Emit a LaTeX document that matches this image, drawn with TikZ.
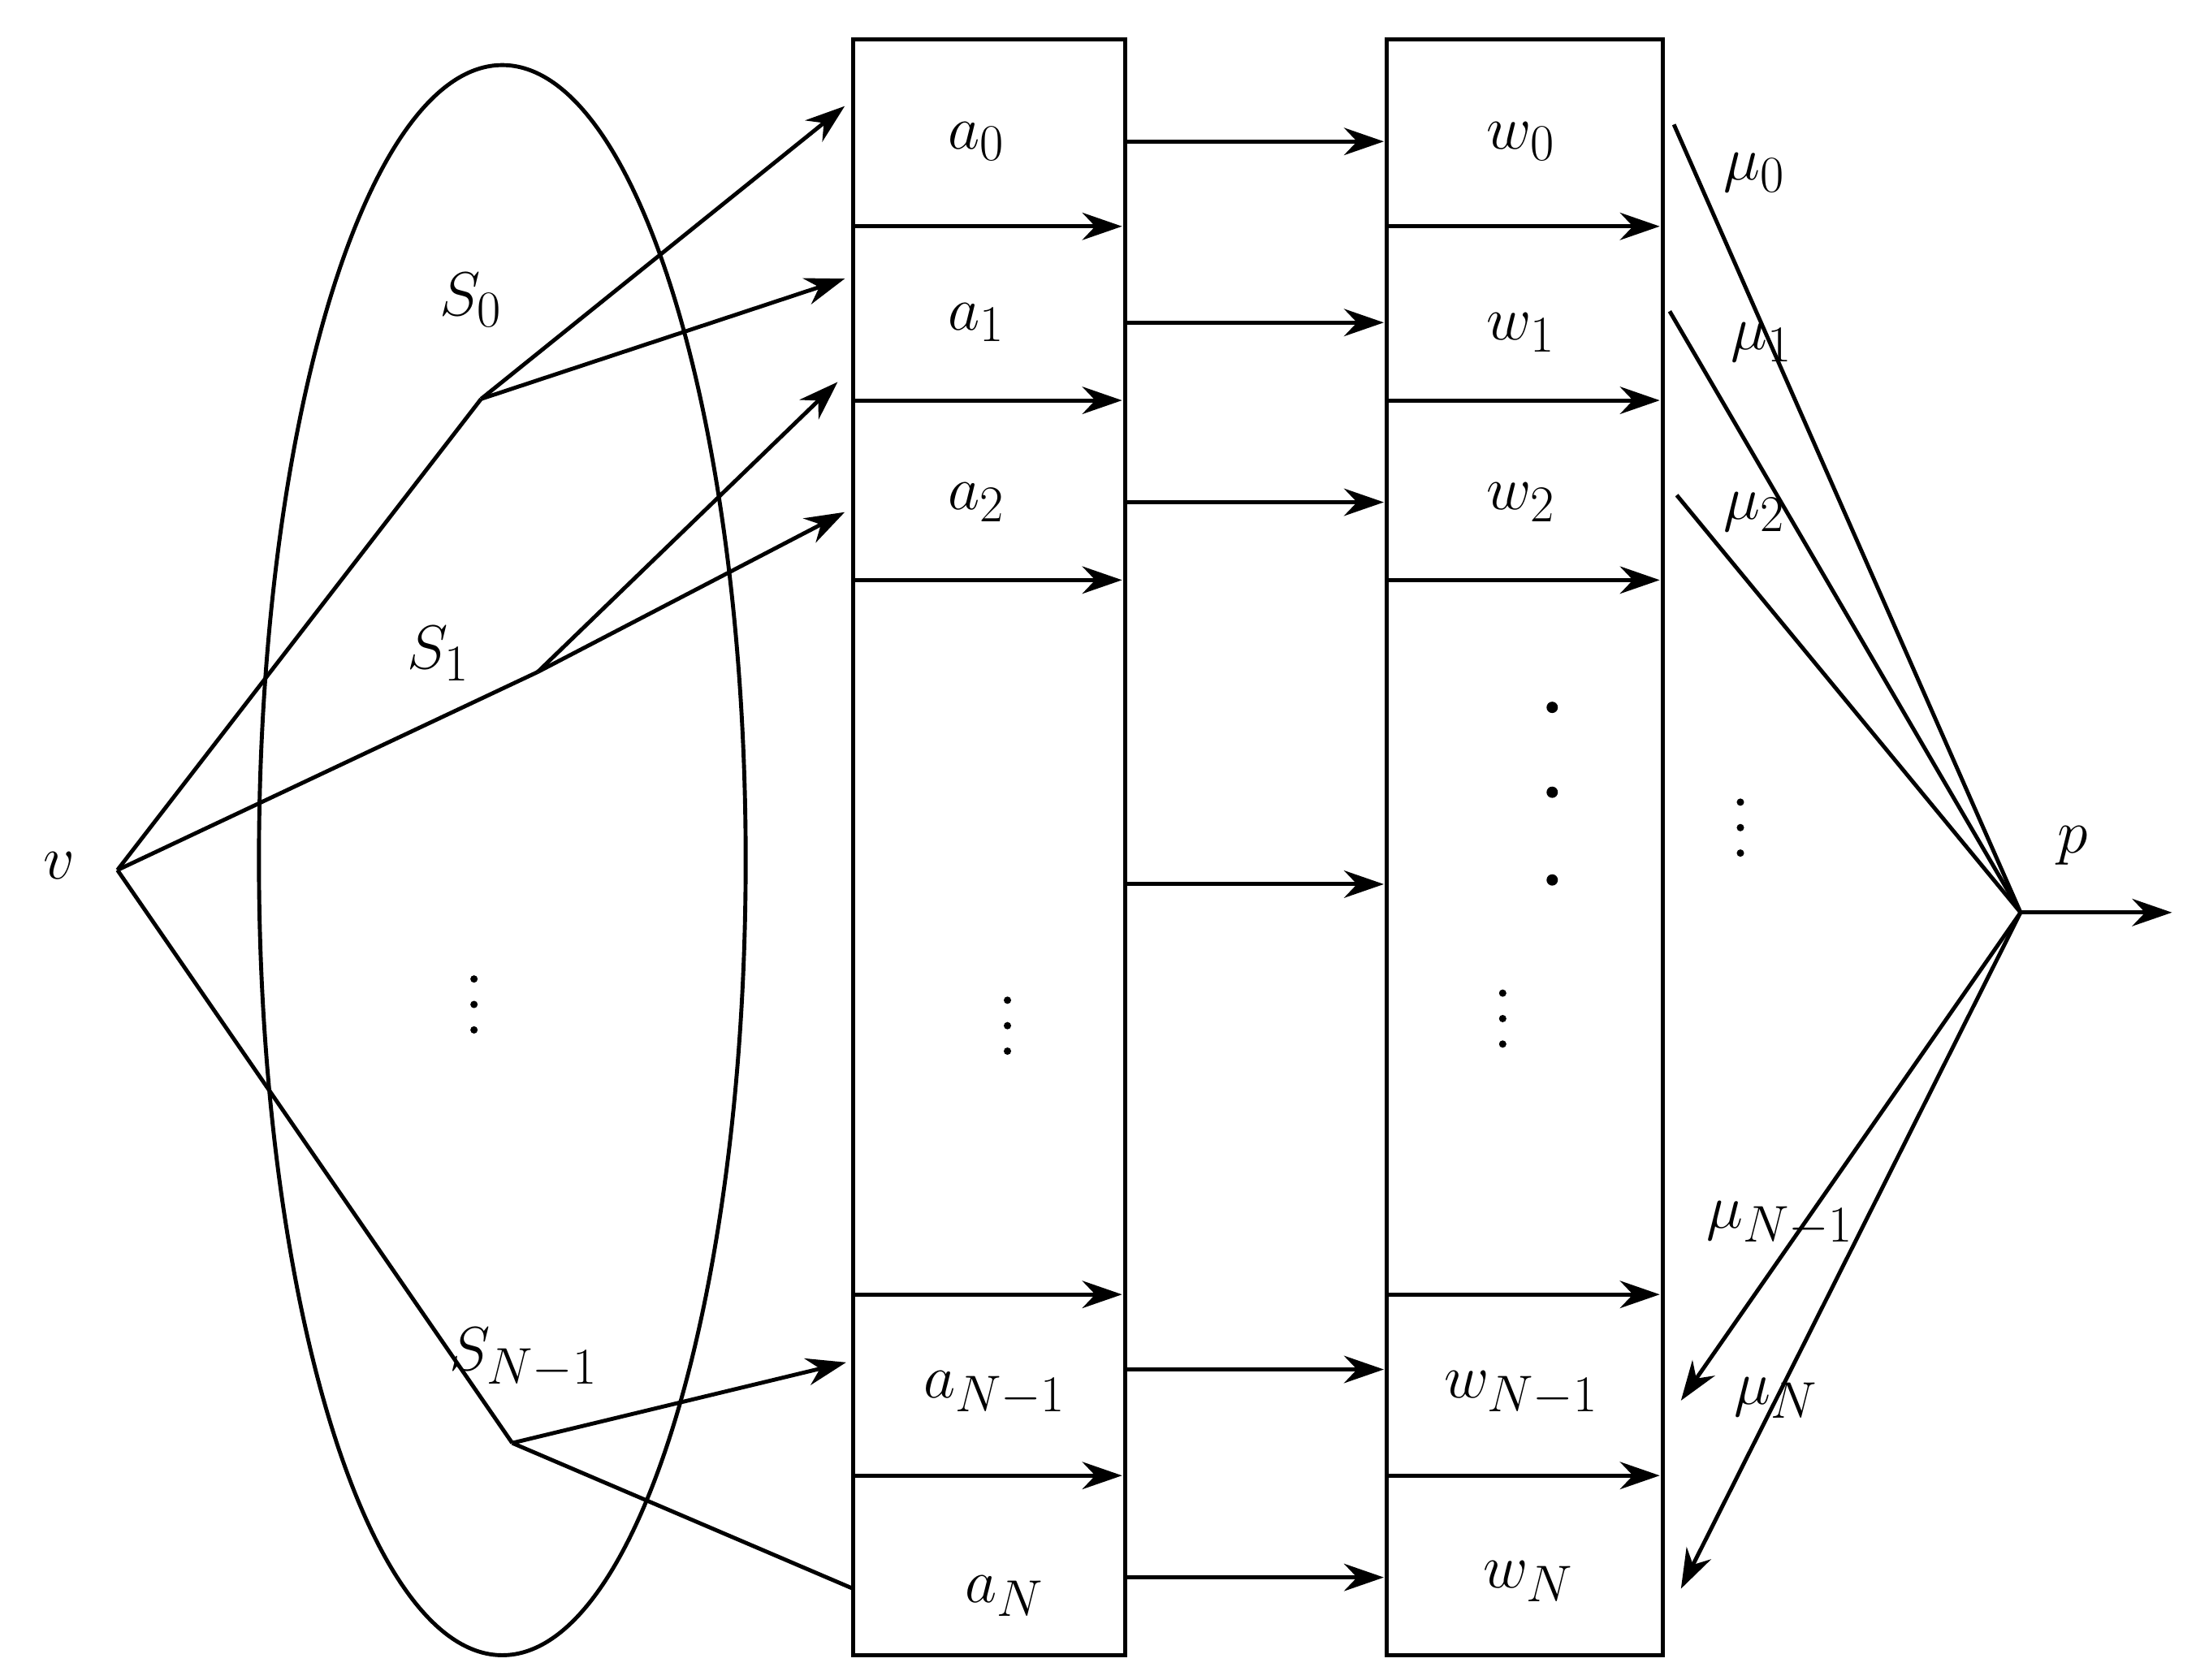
\documentclass[tikz,border=0pt]{standalone}
\usetikzlibrary{arrows.meta}
\begin{document}
\begin{tikzpicture}[x=0.02cm,y=-0.02cm,line width=1.6pt,
  arr/.style={-{Stealth[length=16pt,width=11pt]}},
  lab/.style={font=\fontsize{30}{36}\selectfont},
  vd/.style={fill}]
\useasboundingbox (0,0) rectangle (1552,1187);
% ellipse
\draw (355,608) ellipse [x radius=172, y radius=562];
% points
\coordinate (v) at (83,615);
\coordinate (s0) at (340,282);
\coordinate (s1) at (380,475);
\coordinate (sn) at (362,1020);
\coordinate (p) at (1428,645);
\coordinate (pout) at (1535,645);
\node[lab] (lv) at (42,612) {$v$};
\node[lab] (ls0) at (333,212) {$S_0$};
\node[lab] (ls1) at (310,462) {$S_1$};
\node[lab] (lsn) at (370,960) {$S_{N-1}$};
% vertical dots
\foreach \x/\y in {335/710,712/725,1062/720,1230/585}{
  \fill (\x,\y-18) circle (2.6);
  \fill (\x,\y) circle (2.6);
  \fill (\x,\y+18) circle (2.6);
}
% columns
\draw (603,28) rectangle (795,1170);
\draw (980,28) rectangle (1175,1170);
\foreach \y in {160,283,410,915,1043}{
  \draw[arr] (603,\y) -- (793,\y);
  \draw[arr] (980,\y) -- (1173,\y);
}
% left connectors
\draw (v) -- (s0);
\draw (v) -- (s1);
\draw (v) -- (sn);
\draw[arr] (s0) -- (597,75);
\draw[arr] (s0) -- (597,197);
\draw[arr] (s1) -- (592,270);
\draw[arr] (s1) -- (597,362);
\draw[arr] (sn) -- (598,963);
\draw (sn) -- (603,1123);
% labels in columns
\node[lab] (a0) at (690,100) {$a_0$};
\node[lab] (a1) at (690,228) {$a_1$};
\node[lab] (a2) at (690,355) {$a_2$};
\node[lab] (an1) at (703,985) {$a_{N-1}$};
\node[lab] (an) at (710,1128) {$a_N$};
\node[lab] (w0) at (1075,100) {$w_0$};
\node[lab] (w1) at (1075,235) {$w_1$};
\node[lab] (w2) at (1075,355) {$w_2$};
\node[lab] (wn1) at (1075,985) {$w_{N-1}$};
\node[lab] (wn) at (1080,1118) {$w_N$};
\fill (1097,500) circle (4);
\fill (1097,560) circle (4);
\fill (1097,622) circle (4);
% middle arrows
\foreach \y in {100,228,355,625,968,1115}{
  \draw[arr] (795,\y) -- (978,\y);
}
% right
\draw (1183,88) -- (p);
\draw (1180,220) -- (p);
\draw (1185,350) -- (p);
\draw[arr] (p) -- (1188,990);
\draw[arr] (p) -- (1188,1123);
\draw[arr] (p) -- (pout);
\node[lab] (lp) at (1465,598) {$p$};
\node[lab] (m0) at (1240,122) {$\mu_0$};
\node[lab] (m1) at (1245,242) {$\mu_1$};
\node[lab] (m2) at (1240,362) {$\mu_2$};
\node[lab] (mn1) at (1258,865) {$\mu_{N-1}$};
\node[lab] (mn) at (1255,988) {$\mu_N$};
\end{tikzpicture}
\end{document}
